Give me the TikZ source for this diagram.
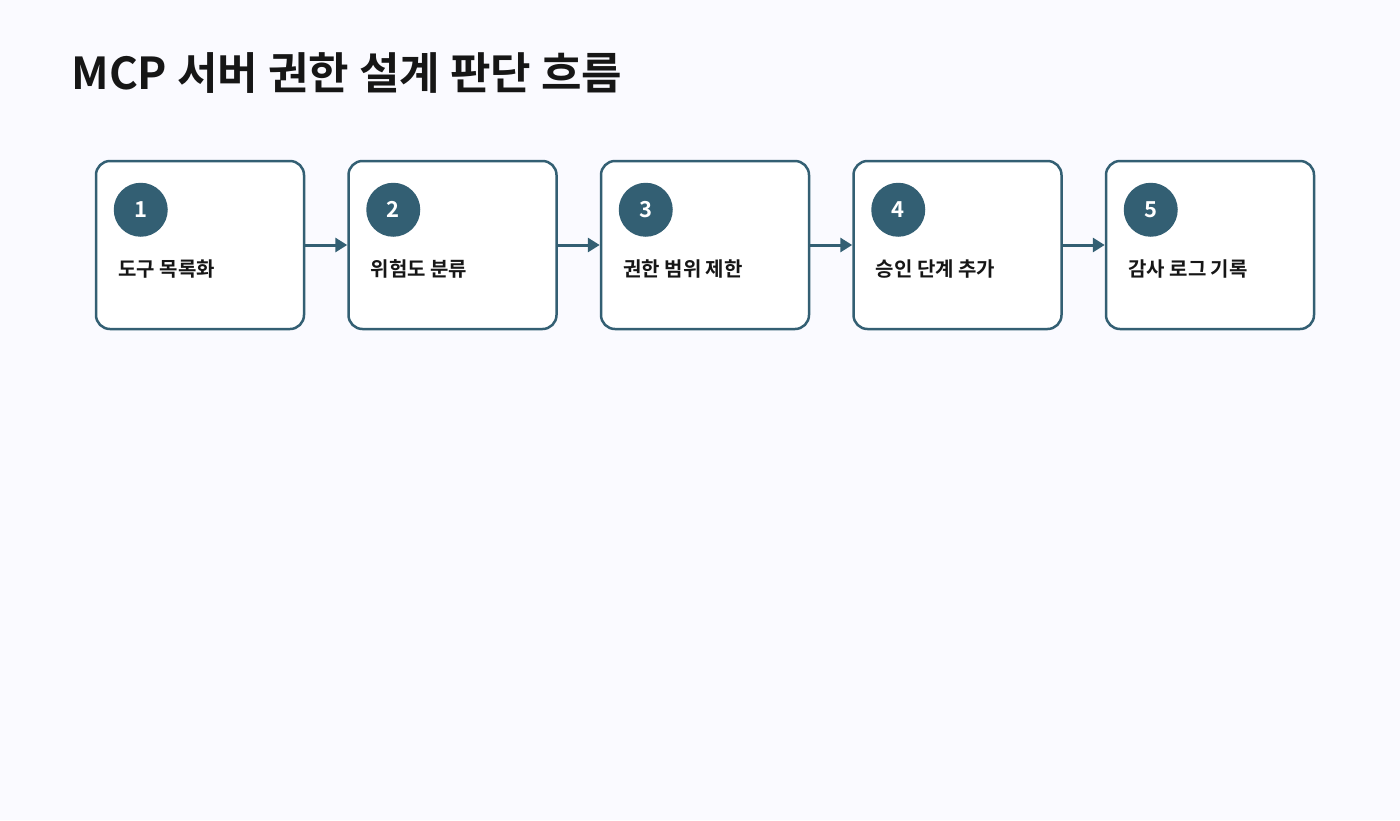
\documentclass[tikz,border=0pt]{standalone}
\usepackage{fontspec}
\setmainfont{Noto Sans CJK KR}[BoldFont={* Bold}]
\usetikzlibrary{positioning,arrows.meta}
\definecolor{bgcol}{HTML}{FAFAFF}
\definecolor{stepcol}{HTML}{335F73}
\definecolor{inkcol}{HTML}{161616}
\tikzset{
  >={Triangle[length=12pt,width=14pt]},
  stepbox/.style={draw=stepcol, line width=2.5pt, fill=white, rounded corners=14pt,
    minimum width=208pt, minimum height=168pt, inner sep=0pt},
  badge/.style={circle, fill=stepcol, minimum size=54pt, inner sep=0pt,
    text=white, font=\bfseries\fontsize{22}{24}\selectfont},
  steplabel/.style={anchor=west, text=inkcol, font=\bfseries\fontsize{20}{22}\selectfont},
  line/.style={draw=stepcol, line width=3pt, ->}
}
\begin{document}
\begin{tikzpicture}[x=1pt,y=1pt]
    \fill[bgcol] (0,0) rectangle (1400,-820);
    \useasboundingbox (0,0) rectangle (1400,-820);

    % Title
    \node[anchor=west, text=inkcol, font=\bfseries\fontsize{44}{48}\selectfont] (title) at (68,-73) {MCP 서버 권한 설계 판단 흐름};

    % Steps
    \node[stepbox] (s1) at (200,-245) {};
    \node[stepbox, right=42pt of s1] (s2) {};
    \node[stepbox, right=42pt of s2] (s3) {};
    \node[stepbox, right=42pt of s3] (s4) {};
    \node[stepbox, right=42pt of s4] (s5) {};

    \foreach \i/\txt in {1/도구 목록화, 2/위험도 분류, 3/권한 범위 제한, 4/승인 단계 추가, 5/감사 로그 기록} {
      \node[badge] (b\i) at ([xshift=46pt,yshift=-50pt]s\i.north west) {\i};
      \node[steplabel] (t\i) at ([xshift=20pt,yshift=-109pt]s\i.north west) {\txt};
    }

    % Arrows
    \foreach \a/\b in {s1/s2, s2/s3, s3/s4, s4/s5}
      \path[line] (\a.east) -- (\b.west);
\end{tikzpicture}
\end{document}
